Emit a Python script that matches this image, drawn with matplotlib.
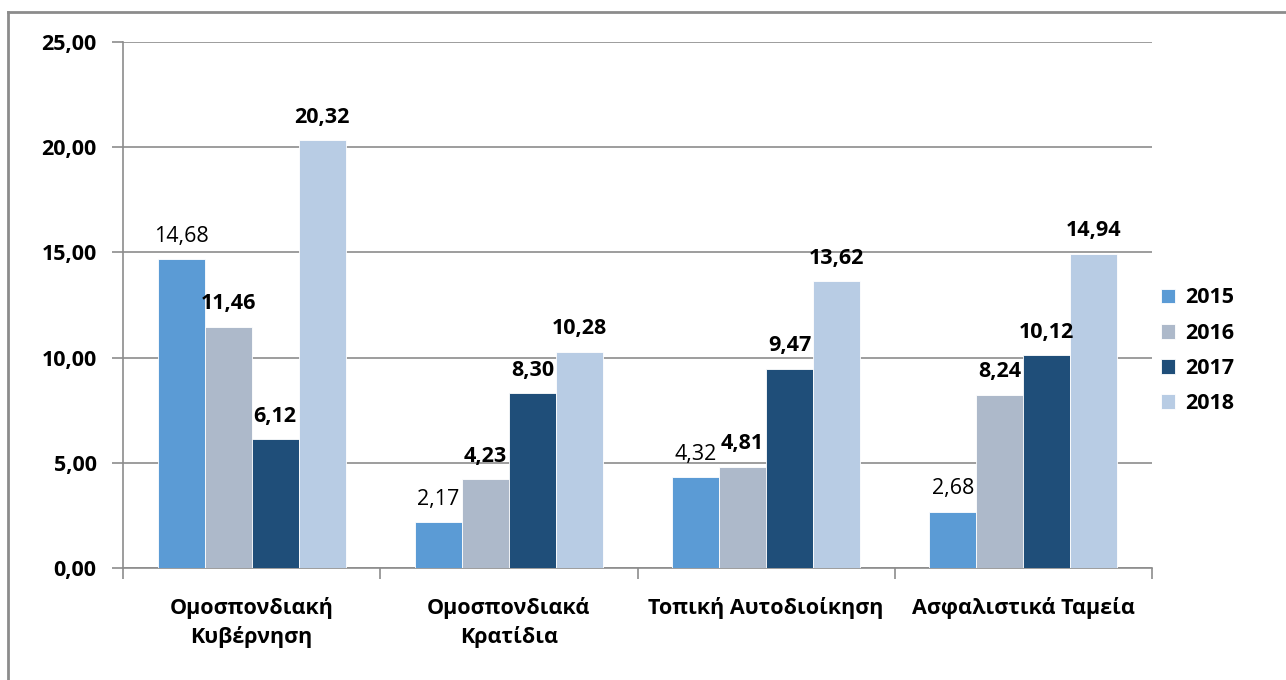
import matplotlib
matplotlib.use("Agg")
import matplotlib.pyplot as plt
from matplotlib.lines import Line2D
from matplotlib.ticker import FixedLocator, NullFormatter
import numpy as np

categories = ["Ομοσπονδιακή\nΚυβέρνηση", "Ομοσπονδιακά\nΚρατίδια",
              "Τοπική Αυτοδιοίκηση", "Ασφαλιστικά Ταμεία"]
years = ["2015", "2016", "2017", "2018"]
v2015 = [14.68, 2.17, 4.32, 2.68]
v2016 = [11.46, 4.23, 4.81, 8.24]
v2017 = [6.12, 8.30, 9.47, 10.12]
v2018 = [20.32, 10.28, 13.62, 14.94]
series = [v2015, v2016, v2017, v2018]
colors = ["#5B9BD5", "#ADB9CA", "#1F4E79", "#B8CCE4"]
label_bold = [False, True, True, True]
yticks = [0, 5, 10, 15, 20, 25]

plt.rcParams['font.family'] = ['Open Sans', 'DejaVu Sans']
FS = 15.5

W, H = 1286, 680
fig = plt.figure(figsize=(W/100, H/100), dpi=100)
fig.patch.set_facecolor("white")

# outer border (top & left)
fig.add_artist(Line2D([8/W, 8/W], [0, 1 - 12/H], transform=fig.transFigure,
                      color="#8c8c8c", lw=2))
fig.add_artist(Line2D([8/W, 1], [1 - 12/H, 1 - 12/H], transform=fig.transFigure,
                      color="#8c8c8c", lw=2))

left, right, top, bottom = 123, 1152, 42, 568
ax = fig.add_axes([left/W, 1 - bottom/H, (right-left)/W, (bottom-top)/H])

bw = 47/257
x = np.arange(len(categories)) + 0.5
for i, (vals, c, yr) in enumerate(zip(series, colors, years)):
    pos = x + (i - 1.5) * bw
    bars = ax.bar(pos, vals, width=bw, color=c, label=yr, zorder=3,
                  edgecolor="white", linewidth=0.6)
    for p, v in zip(pos, vals):
        ax.annotate(f"{v:.2f}".replace(".", ","), (p, v), xytext=(0, 9),
                    textcoords="offset points", ha="center", va="bottom",
                    fontsize=FS, fontweight="bold" if label_bold[i] else "normal",
                    color="black", zorder=4)

ax.set_xlim(0, 4)
ax.set_ylim(0, 25)
ax.set_yticks(yticks)
ax.set_yticklabels([f"{t:.2f}".replace(".", ",") for t in yticks],
                   fontsize=FS, fontweight="bold")
ax.yaxis.grid(True, color="#8c8c8c", lw=1.2, zorder=0)
ax.set_axisbelow(True)

ax.xaxis.set_major_locator(FixedLocator([0, 1, 2, 3, 4]))
ax.xaxis.set_major_formatter(NullFormatter())
ax.xaxis.set_minor_locator(FixedLocator(list(x)))
ax.set_xticklabels(categories, minor=True, fontsize=FS, fontweight="bold",
                   linespacing=1.4)
ax.tick_params(axis="x", which="major", length=8, color="#8c8c8c", width=1.2)
ax.tick_params(axis="x", which="minor", length=0, pad=21)
ax.tick_params(axis="y", length=8, color="#8c8c8c", width=1.2, pad=11)

for s in ["top", "right"]:
    ax.spines[s].set_visible(False)
for s in ["left", "bottom"]:
    ax.spines[s].set_color("#8c8c8c")
    ax.spines[s].set_linewidth(1.2)

leg = ax.legend(loc="center left", bbox_to_anchor=(1.0, 0.413), frameon=False,
                prop={"size": FS, "weight": "bold"}, handlelength=0.68,
                handleheight=0.68, handletextpad=0.45, labelspacing=0.66,
                borderaxespad=0.0)

fig.savefig("out.png", dpi=100, facecolor="white")
